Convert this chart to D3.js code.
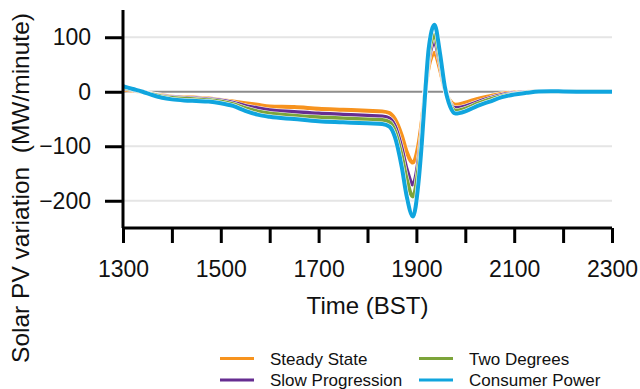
<!DOCTYPE html>
<html>
<head>
<meta charset="utf-8">
<script src="https://cdn.jsdelivr.net/npm/d3@7"></script>
<style>
  body { margin: 0; background: #fff; }
  text { font-family: "Liberation Sans", Arial, sans-serif; fill: #111; }
</style>
</head>
<body>
<div id="chart"></div>
<script>
// time in hours (13 = 1300 BST)
const times = [13.0, 13.2, 13.4, 13.6, 13.8, 14.0, 14.25, 14.5, 14.75, 15.0, 15.25, 15.5, 15.75, 16.0,
  16.5, 17.0, 17.5, 18.0, 18.3, 18.45, 18.56, 18.7, 18.8, 18.93, 19.04, 19.11, 19.18, 19.25, 19.37,
  19.48, 19.58, 19.69, 19.8, 20.0, 20.25, 20.5, 20.75, 21.0, 21.25, 21.5, 21.75, 22.0, 22.5, 23.0];

const steadyState = [4, 2, 0, -4, -7, -9, -10, -11, -12.5, -15, -18, -21, -24, -27,
  -28, -31, -33, -35, -36, -39, -50, -80, -110, -130, -98, -55, 0, 45, 71,
  42, 5, -17, -24, -20, -13, -8, -3.5, -1.5, -0.5, 0.5, 1, 0.5, 0, 0];

const slowProgression = [7, 3, 0, -5, -8, -10, -11.5, -12.5, -14, -16, -20, -26, -30, -34,
  -37, -40, -42, -44, -45.5, -49, -63, -104, -142, -170, -127, -72, -1, 58, 91,
  54, 7, -21, -30, -27, -19, -12, -6, -3, -1, 0.5, 1, 0.5, 0, 0];

const twoDegrees = [8, 4, 0, -5, -9, -11.5, -13, -14, -15.5, -18, -23, -30, -36, -40,
  -44, -47, -49, -51, -52, -56, -72, -118, -160, -192, -142, -80, -1, 66, 104,
  61, 8, -23, -35, -31, -22, -14, -8, -4, -1.5, 0.5, 1, 0.5, 0, 0];

const consumerPower = [10, 5, 0, -6, -11, -14, -16, -17, -18, -21, -26, -35, -42, -46,
  -50, -54, -56, -58, -59, -64, -83, -138, -191, -229, -169, -95, -2, 78, 123,
  72, 10, -27, -40, -36, -26, -18, -10, -5, -2, 0.5, 1, 0.5, 0, 0];

const seriesNames = ["Steady State", "Slow Progression", "Two Degrees", "Consumer Power"];
const seriesColors = ["#F7931E", "#662D91", "#7CA43A", "#10A5DE"];
const seriesValues = [steadyState, slowProgression, twoDegrees, consumerPower];

const yTicks = [100, 0, -100, -200];
const xTicks = [13, 14, 15, 16, 17, 18, 19, 20, 21, 22, 23];
const xLabelTicks = [13, 15, 17, 19, 21, 23];

const width = 640, height = 389;
const plotLeft = 123, plotRight = 612, plotTop = 10, plotBottom = 228;

const svg = d3.select("#chart").append("svg")
  .attr("width", width)
  .attr("height", height);

const x = d3.scaleLinear().domain([13, 23]).range([plotLeft, plotRight]);
const y = d3.scaleLinear().domain([-250, 150]).range([plotBottom, plotTop]);

// grid lines
svg.selectAll("line.grid")
  .data(yTicks.filter(d => d !== 0))
  .enter().append("line")
  .attr("x1", plotLeft).attr("x2", plotRight)
  .attr("y1", d => y(d)).attr("y2", d => y(d))
  .style("stroke", "#e5e5e5").style("stroke-width", 2);

svg.append("line")
  .attr("x1", plotLeft).attr("x2", plotRight)
  .attr("y1", y(0)).attr("y2", y(0))
  .style("stroke", "#8c8c8c").style("stroke-width", 2);

// lines
const line = d3.line()
  .x((d, i) => x(times[i]))
  .y(d => y(d))
  .curve(d3.curveMonotoneX);

seriesValues.forEach((vals, k) => {
  svg.append("path")
    .attr("d", line(vals))
    .style("fill", "none")
    .style("stroke", "#fff")
    .style("stroke-width", 5)
    .style("stroke-linejoin", "round");
  svg.append("path")
    .attr("d", line(vals))
    .style("fill", "none")
    .style("stroke", seriesColors[k])
    .style("stroke-width", 4)
    .style("stroke-linejoin", "round");
});

// axes
const yAxis = svg.append("g").attr("transform", `translate(${plotLeft},0)`)
  .call(d3.axisLeft(y).tickValues(yTicks).tickSize(18).tickPadding(14).tickFormat(d3.format("d")));
const xAxis = svg.append("g").attr("transform", `translate(0,${plotBottom})`)
  .call(d3.axisBottom(x).tickValues(xTicks).tickSize(15).tickPadding(18)
    .tickFormat(d => xLabelTicks.includes(d) ? String(d * 100) : ""));

[yAxis, xAxis].forEach(g => {
  g.select(".domain").style("stroke", "#000").style("stroke-width", 3);
  g.selectAll(".tick line").style("stroke", "#000").style("stroke-width", 3);
  g.selectAll(".tick text").style("font-size", "23px")
    .style("font-family", "'Liberation Sans', Arial, sans-serif").style("fill", "#111");
});
yAxis.select(".domain").attr("d", `M0,${plotTop}V${plotBottom}`);
xAxis.select(".domain").attr("d", `M${plotLeft},0H${plotRight}`);

// axis titles
svg.append("text")
  .attr("x", (plotLeft + plotRight) / 2).attr("y", 314)
  .attr("text-anchor", "middle")
  .style("font-size", "24px")
  .text("Time (BST)");

svg.append("text")
  .attr("transform", "translate(29,188) rotate(-90)")
  .attr("text-anchor", "middle")
  .style("font-size", "24.5px")
  .style("white-space", "pre")
  .text("Solar PV variation  (MW/minute)");

// legend
const legendPos = [[220, 358.5], [220, 380], [419, 358.5], [419, 380]];
const legendOrder = [0, 1, 2, 3];
const legend = svg.selectAll("g.legend")
  .data(legendOrder)
  .enter().append("g")
  .attr("transform", d => `translate(${legendPos[d][0]},${legendPos[d][1]})`);

legend.append("line")
  .attr("x1", 0).attr("x2", 34)
  .style("stroke", d => seriesColors[d]).style("stroke-width", 3);

legend.append("text")
  .attr("x", 50).attr("y", 6)
  .style("font-size", "17px")
  .text(d => seriesNames[d]);
</script>
</body>
</html>
